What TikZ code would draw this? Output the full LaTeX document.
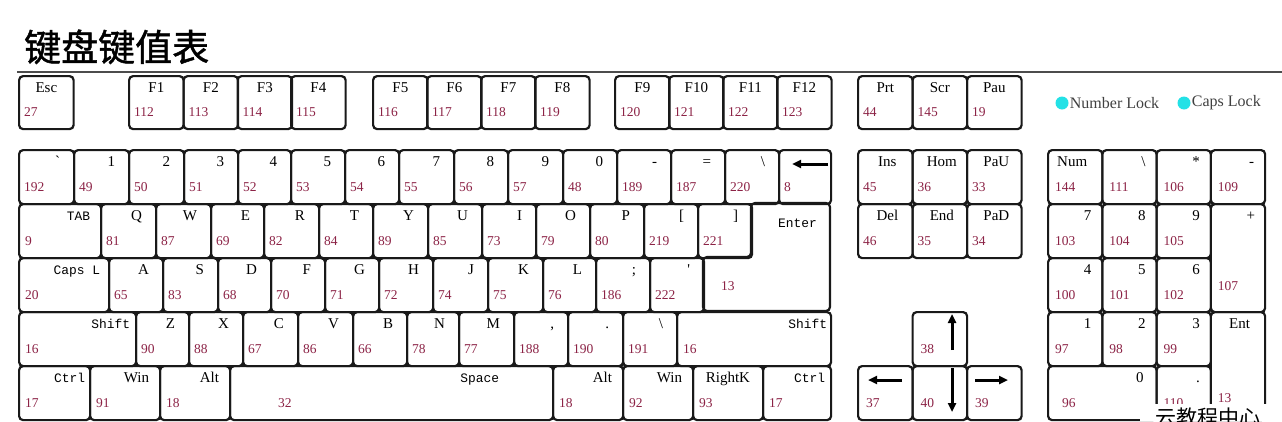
\documentclass[tikz,border=0pt]{standalone}
\usepackage{fontspec}
\setmainfont{Liberation Serif}
\newfontfamily\keymono{Liberation Mono}[Scale=0.86]
\newfontfamily\cjkfont{Noto Sans CJK SC}
\newfontfamily\cjktitle{Noto Sans CJK SC}[FakeBold=1.2]
\usepackage{xcolor}
\usetikzlibrary{arrows.meta,positioning,calc}

\definecolor{codered}{RGB}{140,35,70}
\definecolor{lockcyan}{RGB}{35,225,230}
\definecolor{keyline}{RGB}{25,25,25}

\begin{document}
\begin{tikzpicture}[x=1pt, y=-1pt,
    keycap/.style={draw=keyline, line width=2.2pt, rounded corners=4pt, anchor=north west, inner sep=0pt, minimum height=54pt},
    keyname/.style={anchor=base east, inner sep=0pt, font=\fontsize{15}{17}\selectfont},
    keycode/.style={anchor=base west, inner sep=0pt, text=codered, font=\fontsize{13.5}{16}\selectfont},
    glyph/.style={line width=3pt, -{Triangle[length=9pt, width=8pt]}},
    lockdot/.style={circle, fill=lockcyan, minimum size=13pt, inner sep=0pt},
    locktext/.style={inner sep=0pt, text=black!75, font=\fontsize{16}{18}\selectfont}]
    \useasboundingbox[fill=white] (0,0) rectangle (1282,421);

    % title, rule and lock lights
    \node[anchor=base west, inner sep=0pt, font=\cjktitle\fontsize{37}{40}\selectfont] (title) at (24,61) {键盘键值表};
    \draw[black!70, line width=1.5pt] (17,72) -- (1282,72);
    \node[lockdot] (numdot) at (1062,103) {};
    \node[locktext, right=1pt of numdot] (numtxt) {Number Lock};
    \node[lockdot] (capsdot) at (1184,103) {};
    \node[locktext, right=1pt of capsdot] (capstxt) {Caps Lock};

    % function row
    \foreach \xa/\lbl/\code [count=\i] in {18/Esc/27, 128/F1/112, 182.5/F2/113, 236.5/F3/114, 290/F4/115,
        372/F5/116, 426/F6/117, 480/F7/118, 534/F8/119, 614/F9/120, 668/F10/121, 722/F11/122, 776/F12/123,
        857/Prt/44, 911.5/Scr/145, 966/Pau/19} {
      \node[keycap, minimum width=54.5pt, minimum height=53pt] (f\i) at (\xa,75) {};
      \node[keyname, anchor=base] at ($(f\i.north)+(0,17)$) {\lbl};
      \node[keycode] at ($(f\i.north west)+(6,41)$) {\code};
    }

    % main block, ordinary keys
    \foreach \y/\keys [count=\ri] in {
        149/{18/73/\textasciigrave/192, 73/128/1/49, 128/183/2/50, 183/237/3/51, 237/290/4/52, 290/344/5/53,
             344/398/6/54, 398/453/7/55, 453/507/8/56, 507/562/9/57, 562/616/0/48, 616/670/-/189,
             670/724/=/187, 724/778/\textbackslash/220, 778/830/{}/8},
        203/{100/155/Q/81, 155/210/W/87, 210/263/E/69, 263/318/R/82, 318/372/T/84, 372/427/Y/89,
             427/481/U/85, 481/535/I/73, 535/589/O/79, 589/643/P/80, 643/697/{[}/219, 697/751/]/221},
        257/{108/162/A/65, 162/217/S/83, 217/270/D/68, 270/324/F/70, 324/378/G/71, 378/432/H/72,
             432/487/J/74, 487/542/K/75, 542/595/L/76, 595/649/;/186, 649/703/\textquotesingle/222},
        311/{135/188/Z/90, 188/242/X/88, 242/297/C/67, 297/352/V/86, 352/406/B/66, 406/458/N/78,
             458/513/M/77, 513/567/{,}/188, 567/622/./190, 622/676/\textbackslash/191}} {
      \foreach \xa/\xb/\lbl/\code [count=\ci] in \keys {
        \node[keycap, minimum width={(\xb-\xa)*1pt}] (k\ri-\ci) at (\xa,\y) {};
        \node[keyname] at ($(k\ri-\ci.north east)+(-15,17)$) {\lbl};
        \node[keycode] at ($(k\ri-\ci.north west)+(6,42)$) {\code};
      }
    }
    \draw[glyph] ($(k1-15.north east)+(-4,15)$) -- ($(k1-15.north west)+(14,15)$);

    % main block, modifier keys
    \foreach \xa/\xb/\y/\lbl/\code/\ins [count=\i] in {18/100/203/{\keymono TAB}/9/12,
        18/108/257/{\keymono Caps L}/20/10, 18/135/311/{\keymono Shift}/16/7, 676/830/311/{\keymono Shift}/16/5,
        18/89/365/{\keymono Ctrl}/17/6, 89/159/365/Win/91/12, 159/229/365/Alt/18/12, 552/622/365/Alt/18/12,
        622/692/365/Win/92/12, 692/762/365/RightK/93/14, 762/830/365/{\keymono Ctrl}/17/7} {
      \node[keycap, minimum width={(\xb-\xa)*1pt}] (m\i) at (\xa,\y) {};
      \node[keyname] at ($(m\i.north east)+(-\ins,17)$) {\lbl};
      \node[keycode] at ($(m\i.north west)+(7,42)$) {\code};
    }
    \node[keycap, minimum width=323pt] (space) at (229,365) {};
    \node[keyname] at ($(space.north east)+(-55,17)$) {\keymono Space};
    \node[keycode] at ($(space.north west)+(49,42)$) {32};
    \coordinate (enter) at (751,203);
    \draw[draw=keyline, line width=2.2pt, rounded corners=4pt] (enter) -- ++(79,0) -- ++(0,108)
        -- ++(-127,0) -- ++(0,-54) -- ++(48,0) -- cycle;
    \node[keyname] (enterlbl) at ($(enter)+(66,24)$) {\keymono Enter};
    \node[keycode] (entercode) at ($(enter)+(-30,87)$) {13};

    % editing and arrow keys
    \foreach \xa/\y/\lbl/\code [count=\i] in {857/149/Ins/45, 911.5/149/Hom/36, 966/149/PaU/33,
        857/203/Del/46, 911.5/203/End/35, 966/203/PaD/34} {
      \node[keycap, minimum width=54.5pt] (n\i) at (\xa,\y) {};
      \node[keyname, anchor=base] at ($(n\i.north)+(2,17)$) {\lbl};
      \node[keycode] at ($(n\i.north west)+(6,42)$) {\code};
    }
    \foreach \xa/\y/\code/\nm in {911.5/311/38/aup, 857/365/37/aleft, 911.5/365/40/adown, 966/365/39/aright} {
      \node[keycap, minimum width=54.5pt] (\nm) at (\xa,\y) {};
      \node[keycode] at ($(\nm.north west)+(9,42)$) {\code};
    }
    \draw[glyph] ($(aup.north west)+(40.5,39)$) -- ($(aup.north west)+(40.5,3)$);
    \draw[glyph] ($(adown.north west)+(40.5,3)$) -- ($(adown.north west)+(40.5,47)$);
    \draw[glyph] ($(aleft.north west)+(45,15)$) -- ($(aleft.north west)+(11,15)$);
    \draw[glyph] ($(aright.north west)+(9,15)$) -- ($(aright.north west)+(42,15)$);

    % number pad
    \foreach \xa/\y/\lbl/\code [count=\i] in {1047/149/{}/144, 1101.25/149/\textbackslash/111,
        1155.5/149/*/106, 1209.75/149/-/109, 1047/203/7/103, 1101.25/203/8/104, 1155.5/203/9/105,
        1047/257/4/100, 1101.25/257/5/101, 1155.5/257/6/102, 1047/311/1/97, 1101.25/311/2/98,
        1155.5/311/3/99, 1155.5/365/./110} {
      \node[keycap, minimum width=54.25pt] (p\i) at (\xa,\y) {};
      \node[keyname] at ($(p\i.north east)+(-12,17)$) {\lbl};
      \node[keycode] at ($(p\i.north west)+(8,42)$) {\code};
    }
    \node[keyname, anchor=base west] at ($(p1.north west)+(10,17)$) {Num};
    \node[keycap, minimum width=54.25pt, minimum height=108pt] (pplus) at (1209.75,203) {};
    \node[keyname] at ($(pplus.north east)+(-11,17)$) {+};
    \node[keycode] at ($(pplus.north west)+(8,87)$) {107};
    \node[keycap, minimum width=54.25pt, minimum height=108pt] (pent) at (1209.75,311) {};
    \node[keyname] at ($(pent.north east)+(-16,17)$) {Ent};
    \node[keycode] at ($(pent.north west)+(8,91)$) {13};
    \node[keycap, minimum width=108.5pt] (pzero) at (1047,365) {};
    \node[keyname] at ($(pzero.north east)+(-14,17)$) {0};
    \node[keycode] at ($(pzero.north west)+(15,42)$) {96};

    % watermark strip
    \fill[white] (1140,404) rectangle (1282,421);
    \node[anchor=north west, inner sep=0pt, font=\cjkfont\fontsize{21}{24}\selectfont] (mark) at (1155,408) {云教程中心};
\end{tikzpicture}
\end{document}
